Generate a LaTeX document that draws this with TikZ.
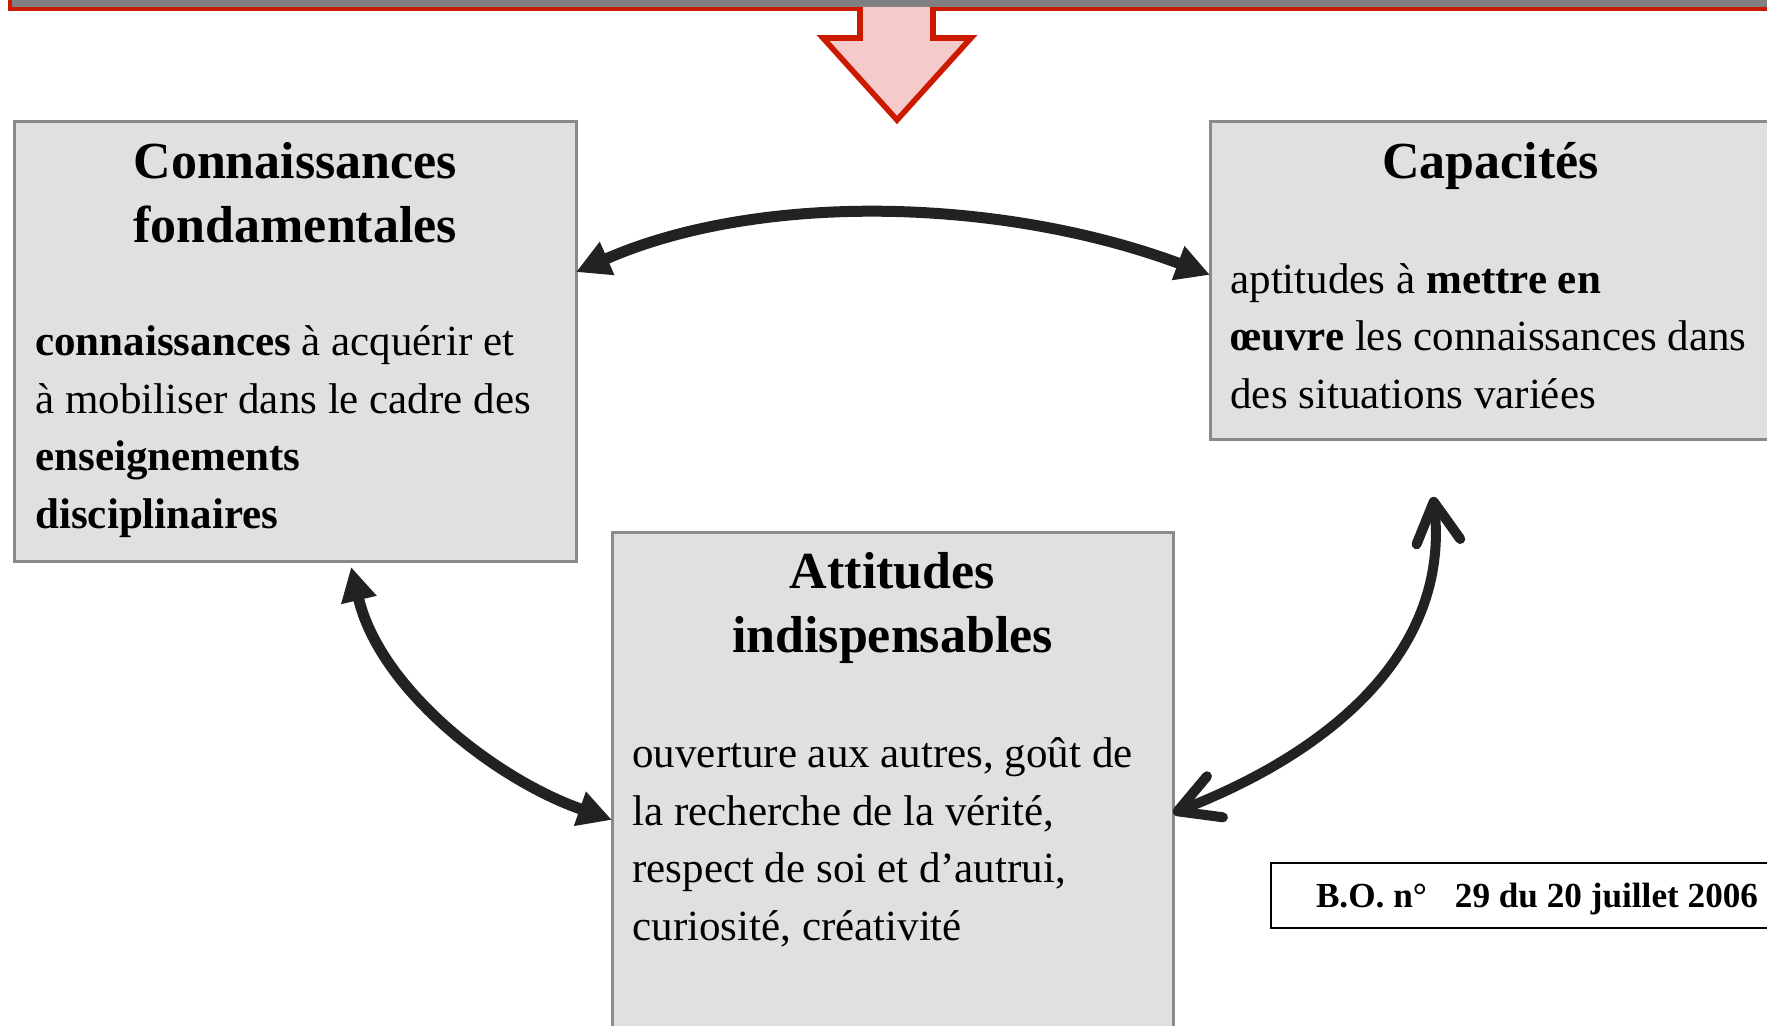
\documentclass[tikz,border=0pt]{standalone}
\usepackage{fontspec}
\setmainfont{Liberation Serif}
\usetikzlibrary{arrows.meta,positioning}

\definecolor{panelfill}{HTML}{E0E0E0}
\definecolor{panelline}{HTML}{8A8A8A}
\definecolor{linkink}{HTML}{222222}
\definecolor{barred}{HTML}{CC1A00}
\definecolor{bargray}{HTML}{808080}
\definecolor{arrowpink}{HTML}{F4CACA}

\begin{document}
\begin{tikzpicture}
  [
    x = 0.5pt, y = -0.5pt,
    panel/.style = {draw = panelline, fill = panelfill, line width = 1.5pt,
        inner sep = 0pt, outer sep = 0pt, anchor = north west, minimum width = 280.7pt},
    paneltitle/.style = {align = center, inner sep = 0pt, anchor = base,
        font = \fontsize{26}{32}\selectfont\bfseries},
    panelbody/.style = {align = left, inner sep = 0pt, anchor = base west,
        font = \fontsize{21.5}{28.75}\selectfont},
    bobox/.style = {draw = black, fill = white, line width = 1pt, anchor = north west,
        inner xsep = 22.5pt, inner ysep = 0pt, outer sep = 0pt, minimum height = 32.25pt,
        text height = 12.5pt, text depth = 0pt, font = \fontsize{17.6}{22}\selectfont\bfseries},
    link/.style = {draw = linkink, line width = 5.5pt,
        {Triangle[length = 17pt, width = 17pt]}-{Triangle[length = 17pt, width = 17pt]}},
    openlink/.style = {draw = linkink, line width = 5pt, line cap = round,
        {Straight Barb[length = 20pt, width = 22pt, round]}-{Straight Barb[length = 20pt, width = 22pt, round]}},
  ]

  \useasboundingbox (0,0) rectangle (1767,1026);
  \clip (0,0) rectangle (1767,1026);
  \fill[white] (0,0) rectangle (1767,1026);

  \filldraw[fill = bargray, draw = barred, line width = 1.75pt] (10.2,-40) rectangle (1800,9.2);
  \fill[arrowpink] (860,7) -- (860,38) -- (823,38) -- (897,120) -- (971,38) -- (933,38) -- (933,7) -- cycle;
  \draw[barred, line width = 2.8pt] (860,7) -- (860,38) -- (823,38) -- (897,120) -- (971,38) -- (933,38) -- (933,7);

  % base of a text block = baseline of its last line
  \node[panel, minimum height = 220pt] (cf) at (14.6,121.7) {};
  \node[paneltitle] (cftitle) at ([yshift = -60.2pt]cf.north) {Connaissances\\fondamentales};
  \node[panelbody] (cfbody) at ([xshift = 10.2pt, yshift = -203.2pt]cf.north west)
    {\textbf{connaissances} à acquérir et\\à mobiliser dans le cadre des\\\textbf{enseignements}\\\textbf{disciplinaires}};

  \node[panel, minimum height = 159pt] (cap) at (1210,121.7) {};
  \node[paneltitle] (captitle) at ([yshift = -28.2pt]cap.north) {Capacités};
  \node[panelbody] (capbody) at ([xshift = 10pt, yshift = -143.2pt]cap.north west)
    {aptitudes à \textbf{mettre en}\\\textbf{œuvre} les connaissances dans\\des situations variées};

  \node[panel, minimum width = 280.5pt, minimum height = 300pt] (att) at (612,532.7) {};
  \node[paneltitle] (atttitle) at ([yshift = -59.7pt]att.north) {Attitudes\\indispensables};
  \node[panelbody] (attbody) at ([xshift = 10pt, yshift = -203.7pt]att.north west)
    {ouverture aux autres, goût de\\la recherche de la vérité,\\respect de soi et d’autrui,\\curiosité, créativité};

  \node[bobox] (bo) at (1271,863) {B.O. n°\hspace{14pt}29 du 20 juillet 2006};

  \draw[link] ([yshift = -75.2pt]cf.north east) .. controls +(182,-80) and +(-210,-78) .. ([yshift = -76.6pt]cap.north west);
  \draw[link] ([xshift = 27.9pt, yshift = -2.6pt]cf.south) .. controls +(29,123) and +(-115,-40) .. ([yshift = -143.6pt]att.north west);
  \draw[openlink] ([xshift = -28.8pt, yshift = -28.6pt]cap.south) .. controls +(17,143) and +(175,-68) .. ([yshift = -140.2pt]att.north east);

\end{tikzpicture}
\end{document}
